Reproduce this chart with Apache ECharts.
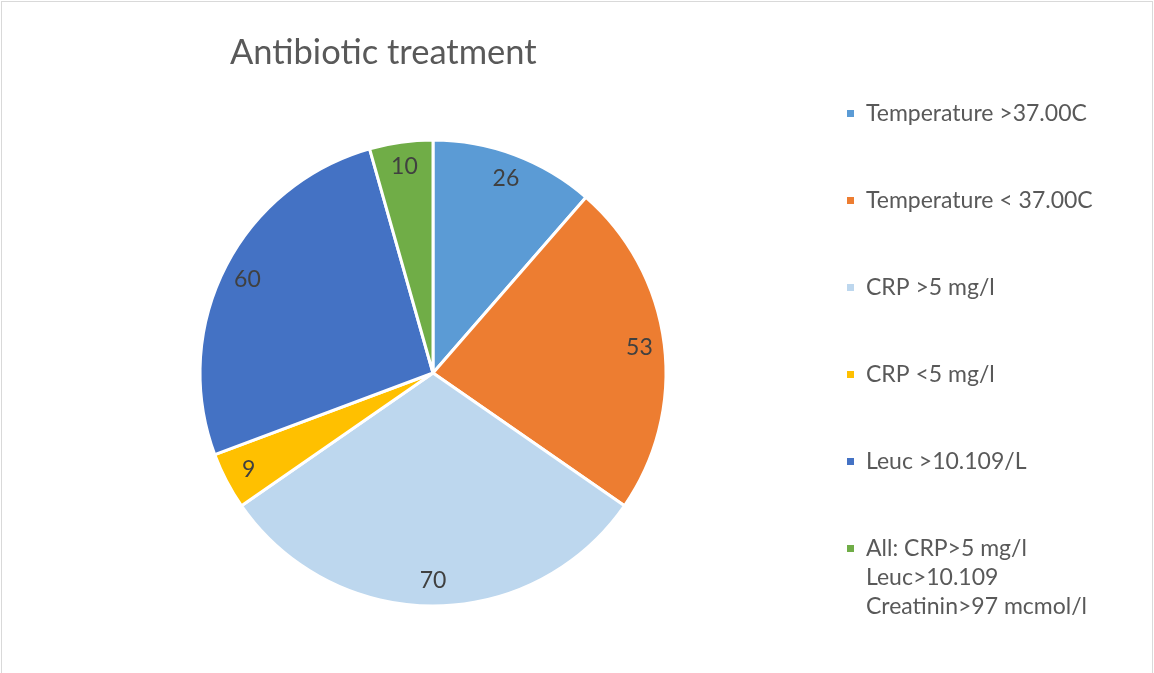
<!DOCTYPE html>
<html>
<head>
<meta charset="utf-8">
<script src="https://cdn.jsdelivr.net/npm/echarts@6/dist/echarts.min.js"></script>
<style>
html,body{margin:0;padding:0;background:#fff;}
#frame{position:absolute;left:1px;top:1px;width:1152px;height:680px;border-left:1px solid #d9d9d9;border-top:1px solid #d9d9d9;border-right:1px solid #d9d9d9;box-sizing:border-box;pointer-events:none;}
#chart{position:absolute;left:0;top:0;width:1154px;height:673px;}
</style>
</head>
<body>
<div id="chart"></div>
<div id="frame"></div>
<script>
const titleText = 'Antibiotic treatment';
const categories = [
  'Temperature >37.00C',
  'Temperature < 37.00C',
  'CRP >5 mg/l',
  'CRP <5 mg/l',
  'Leuc >10.109/L',
  'All: CRP>5 mg/l\nLeuc>10.109\nCreatinin>97 mcmol/l'
];
const values = [26, 53, 70, 9, 60, 10];
const colors = ['#5B9BD5', '#ED7D31', '#BDD7EE', '#FFC000', '#4472C4', '#70AD47'];

const pieData = categories.map((c, i) => ({ name: c, value: values[i], itemStyle: { color: colors[i] } }));
const labelData = categories.map((c, i) => ({ name: c, value: values[i] }));

const chart = echarts.init(document.getElementById('chart'), null, { renderer: 'canvas' });
const FONT = 'Lato';
const legendBase = {
  orient: 'vertical',
  left: 840,
  itemWidth: 9,
  itemHeight: 9,
  itemGap: 58,
  icon: 'rect',
  selectedMode: false,
  textStyle: { fontFamily: FONT, fontSize: 23, color: '#595959', lineHeight: 29, padding: [0, 0, 0, 6] }
};
chart.setOption({
  backgroundColor: 'transparent',
  animation: false,
  title: {
    text: titleText,
    left: 225,
    top: 30,
    textStyle: { fontFamily: FONT, fontSize: 34.5, fontWeight: 'normal', color: '#595959' }
  },
  legend: [
    Object.assign({}, legendBase, { top: 94, data: categories.slice(0, 5) }),
    Object.assign({}, legendBase, {
      top: 471,
      data: [categories[5]],
      // two leading blank lines keep the first text line level with the marker
      formatter: name => '\n\n' + name
    })
  ],
  series: [
    {
      type: 'pie',
      center: [433, 373],
      radius: [0, 233],
      startAngle: 90,
      clockwise: true,
      silent: true,
      data: pieData,
      itemStyle: { borderColor: '#ffffff', borderWidth: 3 },
      label: { show: false },
      labelLine: { show: false }
    },
    {
      type: 'pie',
      center: [433, 373],
      radius: [177, 233],
      startAngle: 90,
      clockwise: true,
      silent: true,
      legendHoverLink: false,
      data: labelData,
      itemStyle: { color: 'rgba(0,0,0,0)' },
      label: {
        show: true,
        position: 'inside',
        formatter: '{c}',
        fontFamily: FONT,
        fontSize: 23,
        color: '#404040'
      },
      labelLine: { show: false }
    }
  ]
});
</script>
</body>
</html>
